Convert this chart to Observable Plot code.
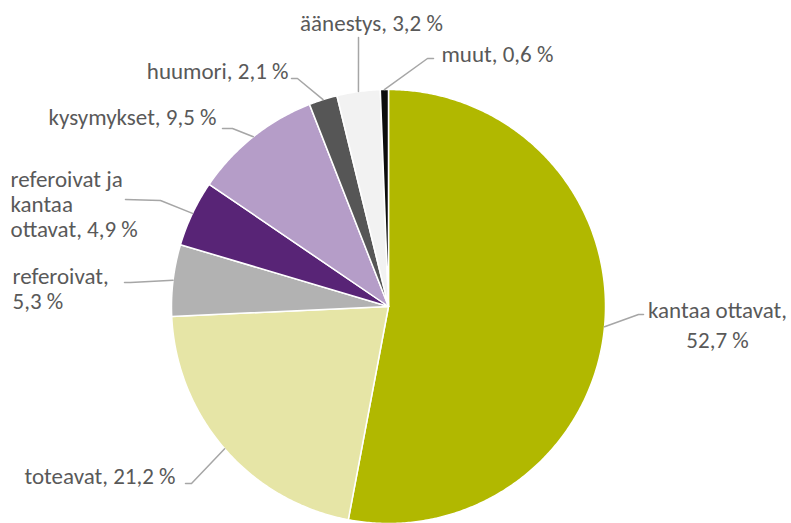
<!DOCTYPE html>
<html>
<head>
<meta charset="utf-8">
<script src="https://cdn.jsdelivr.net/npm/d3@7"></script>
<script src="https://cdn.jsdelivr.net/npm/@observablehq/plot@0.6"></script>
<style>
  html, body { margin: 0; padding: 0; background: #ffffff; }
  #chart svg { display: block; }
</style>
</head>
<body>
<div id="chart"></div>
<script>
// ---- data ----
const categories = ["kantaa ottavat", "toteavat", "referoivat", "referoivat ja kantaa ottavat", "kysymykset", "huumori", "äänestys", "muut"];
const values = [52.7, 21.2, 5.3, 4.9, 9.5, 2.1, 3.2, 0.6];
const labels = ["kantaa ottavat,\n52,7 %", "toteavat, 21,2 %", "referoivat,\n5,3 %", "referoivat ja\nkantaa\nottavat, 4,9 %", "kysymykset, 9,5 %", "huumori, 2,1 %", "äänestys, 3,2 %", "muut, 0,6 %"];
const colors = ["#b1b800", "#e6e5a6", "#b2b2b2", "#582476", "#b59dc8", "#565656", "#f2f2f2", "#0d0d0d"];

// ---- layout (pixels) ----
const W = 791, H = 523;
const CX = 388, CY = 306, R = 217;
const FS = 23;
// label placement: x, first-line baseline, line step, alignment, leader elbow and end
const labelLayout = [
  {tx: 717, b: 315, step: 30, anchor: "middle", elbow: [638, 314], end: [643, 314]},
  {tx: 175, b: 483, step: 25, anchor: "end", elbow: [191, 483], end: [185, 483]},
  {tx: 12, b: 283, step: 25, anchor: "start", elbow: [130, 282], end: [124, 282]},
  {tx: 10, b: 186, step: 25, anchor: "start", elbow: [160, 200], end: [125, 199]},
  {tx: 216, b: 124, step: 25, anchor: "end", elbow: [232, 128], end: [222, 128]},
  {tx: 288, b: 78, step: 25, anchor: "end", elbow: [297, 78], end: [291, 78]},
  {tx: 371, b: 30, step: 25, anchor: "middle", elbow: [358, 50], end: [358, 37]},
  {tx: 441, b: 61, step: 25, anchor: "start", elbow: [427, 58], end: [433, 58]}
];

// ---- geometry from data ----
const arcs = d3.pie().sort(null).value(d => d)(values);
const pt = (a, r) => [CX + r * Math.sin(a), CY - r * Math.cos(a)];

const slicePts = [];
arcs.forEach((a, i) => {
  const cat = categories[i];
  slicePts.push({cat, x: CX, y: CY});
  const n = Math.max(2, Math.ceil((a.endAngle - a.startAngle) / (Math.PI / 360)));
  for (let k = 0; k <= n; k++) {
    const ang = a.startAngle + (a.endAngle - a.startAngle) * k / n;
    const [x, y] = pt(ang, R);
    slicePts.push({cat, x, y});
  }
});

const leaderPts = [];
const textRows = [];
arcs.forEach((a, i) => {
  const L = labelLayout[i];
  const mid = (a.startAngle + a.endAngle) / 2;
  const [sx, sy] = pt(mid, R);
  leaderPts.push({cat: categories[i], x: sx, y: sy});
  leaderPts.push({cat: categories[i], x: L.elbow[0], y: L.elbow[1]});
  leaderPts.push({cat: categories[i], x: L.end[0], y: L.end[1]});
  const nLines = labels[i].split("\n").length;
  const ty = L.b - 0.32 * FS + (nLines - 1) * L.step / 2;
  textRows.push({text: labels[i], x: L.tx, y: ty, anchor: L.anchor, lh: L.step / FS});
});

const textMarks = textRows.map(t => Plot.text([t], {
  x: "x", y: "y", text: "text",
  textAnchor: t.anchor, lineAnchor: "middle", lineHeight: t.lh,
  fill: "#595959", fontSize: FS
}));

const chart = Plot.plot({
  width: W, height: H,
  margin: 0,
  style: {fontFamily: "Carlito, Calibri, Lato, sans-serif", background: "#ffffff"},
  x: {domain: [0, W], range: [0, W], axis: null},
  y: {domain: [0, H], range: [0, H], axis: null},
  color: {domain: categories, range: colors},
  marks: [
    Plot.line(slicePts, {x: "x", y: "y", z: "cat", fill: "cat", stroke: "#ffffff", strokeWidth: 1.5, curve: "linear-closed", strokeLinejoin: "round"}),
    Plot.line(leaderPts, {x: "x", y: "y", z: "cat", stroke: "#a6a6a6", strokeWidth: 1.5}),
    ...textMarks
  ]
});
document.getElementById("chart").appendChild(chart);
</script>
</body>
</html>
